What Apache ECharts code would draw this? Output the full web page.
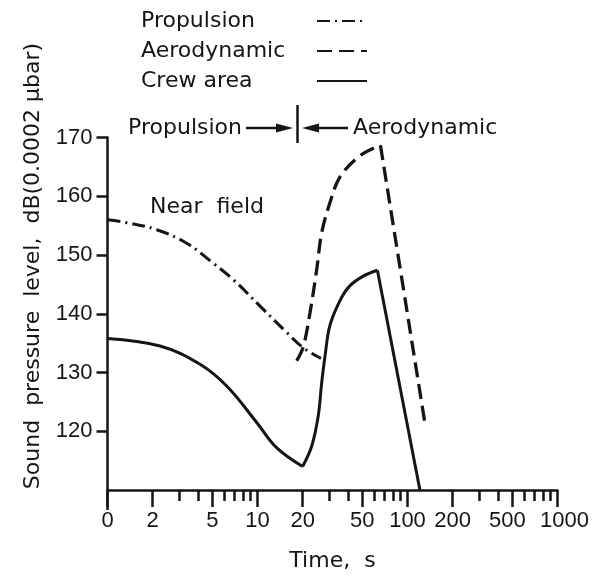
<!DOCTYPE html>
<html>
<head>
<meta charset="utf-8">
<script src="https://cdn.jsdelivr.net/npm/echarts@6/dist/echarts.min.js"></script>
<style>
html,body{margin:0;padding:0;background:#fff;}
#chart{width:607px;height:577px;}
</style>
</head>
<body>
<div id="chart"></div>
<script>
// ---- data ----
const labelTicks = [1, 2, 5, 10, 20, 50, 100, 200, 500, 1000];
const labelText = ['0', '2', '5', '10', '20', '50', '100', '200', '500', '1000'];
const minorTicks = [3, 4, 6, 7, 8, 9, 30, 40, 60, 70, 80, 90, 300, 400, 600, 700, 800, 900];
const yTicks = [120, 130, 140, 150, 160, 170];

const propulsionTime = [1, 1.34, 2.13, 3.37, 5.07, 6.9, 10.4, 15.7, 20.2, 26.5];
const propulsionSPL  = [156.0, 155.5, 154.3, 152.0, 148.6, 145.8, 141.3, 136.8, 134.2, 132.4];

const aeroRiseTime = [18.25, 20.2, 22.4, 24.8, 26.8, 30.4, 35.5, 48.2, 66];
const aeroRiseSPL  = [132.0, 134.4, 140.2, 147.5, 153.8, 158.9, 163.3, 166.9, 168.7];
const aeroFallTime = [66, 131];
const aeroFallSPL  = [168.7, 121.2];

const crewDropTime = [1, 2.24, 4.14, 6.23, 9.88, 13.4, 20];
const crewDropSPL  = [135.8, 134.5, 131.4, 127.7, 121.5, 117.2, 114.0];
const crewRiseTime = [20, 23, 25.4, 26.8, 28.2, 30.3, 35.4, 41.1, 50.7, 63];
const crewRiseSPL  = [114.0, 117.5, 122.6, 128.3, 132.8, 137.9, 142.2, 144.7, 146.4, 147.4];
const crewFallTime = [63, 121];
const crewFallSPL  = [147.4, 110];

const zip = (a, b) => a.map((v, i) => [v, b[i]]);

const FONT = 'DejaVu Sans';
const NUMFONT = 'Liberation Sans';
const INK = '#151515';

const chart = echarts.init(document.getElementById('chart'));

const lsProp = { color: INK, width: 3, type: [13, 5, 2, 5] };
const lsAero = { color: INK, width: 3.3, type: [15, 7] };
const lsCrew = { color: INK, width: 3, type: 'solid' };

function tickName(v) {
  let best = 0, bd = Infinity;
  labelTicks.forEach((t, i) => { const d = Math.abs(Math.log(t) - Math.log(v)); if (d < bd) { bd = d; best = i; } });
  const s = labelText[best];
  if (best === labelTicks.length - 2) return '{l|' + s + '}';
  if (best === labelTicks.length - 1) return '{r|' + s + '}';
  return s;
}

const numStyle = { fontFamily: NUMFONT, fontSize: 22, color: INK };

chart.setOption({
  animation: false,
  backgroundColor: '#fff',
  textStyle: { fontFamily: FONT, color: INK },
  grid: { left: 107.5, right: 49.5, top: 137.5, bottom: 85, containLabel: false },
  legend: {
    orient: 'vertical',
    left: 136,
    top: 4,
    align: 'right',
    itemWidth: 50,
    itemHeight: 14,
    itemGap: 6,
    data: ['Propulsion', 'Aerodynamic', 'Crew area'],
    itemStyle: { opacity: 0 },
    formatter: function (name) { return '{a|' + name + '}'; },
    textStyle: {
      fontFamily: FONT, fontSize: 22, color: INK, lineHeight: 24,
      rich: { a: { fontFamily: FONT, fontSize: 22, color: INK, width: 171, align: 'left', lineHeight: 24 } }
    },
    selectedMode: false
  },
  xAxis: [{
    type: 'log',
    logBase: 10,
    min: 1,
    max: 1000,
    name: 'Time,  s',
    nameLocation: 'middle',
    nameGap: 60,
    nameTextStyle: { fontFamily: FONT, fontSize: 22, color: INK },
    axisLine: { show: true, onZero: false, lineStyle: { color: INK, width: 2.5 } },
    axisTick: { show: true, customValues: labelTicks, length: 17, lineStyle: { color: INK, width: 2.5 } },
    axisLabel: {
      show: true, customValues: labelTicks, margin: 20,
      showMinLabel: true, showMaxLabel: true, hideOverlap: false,
      fontFamily: NUMFONT, fontSize: 22, color: INK,
      formatter: tickName,
      rich: {
        l: Object.assign({ padding: [0, 10, 0, 0] }, numStyle),
        r: Object.assign({ padding: [0, 0, 0, 14] }, numStyle)
      }
    },
    splitLine: { show: false },
    minorTick: { show: false }
  }, {
    type: 'log',
    logBase: 10,
    min: 1,
    max: 1000,
    position: 'bottom',
    axisLine: { show: false },
    axisTick: { show: true, customValues: minorTicks, length: 11, lineStyle: { color: INK, width: 2.5 } },
    axisLabel: { show: false },
    splitLine: { show: false }
  }],
  yAxis: {
    type: 'value',
    min: 110,
    max: 170,
    axisLine: { show: true, onZero: false, lineStyle: { color: INK, width: 2.5 } },
    axisTick: { show: true, customValues: yTicks, length: 11, lineStyle: { color: INK, width: 2.5 } },
    axisLabel: { show: true, customValues: yTicks, margin: 15, showMaxLabel: true, fontFamily: NUMFONT, fontSize: 22, color: INK },
    splitLine: { show: false }
  },
  graphic: [
    { type: 'text', x: 33, y: 266, rotation: Math.PI / 2,
      style: { text: 'Sound  pressure  level,  dB(0.0002 \u03bcbar)', font: '22px "DejaVu Sans"', fill: INK, align: 'center', verticalAlign: 'middle' } },
    { type: 'line', shape: { x1: 107.5, y1: 492, x2: 107.5, y2: 510 }, style: { stroke: INK, lineWidth: 2.5 } },
    { type: 'text', x: 242, y: 128, style: { text: 'Propulsion', font: '22px "DejaVu Sans"', fill: INK, align: 'right', verticalAlign: 'middle' } },
    { type: 'line', shape: { x1: 246, y1: 128, x2: 280, y2: 128 }, style: { stroke: INK, lineWidth: 2.5 } },
    { type: 'polygon', shape: { points: [[276, 123.5], [293, 128], [276, 132.5]] }, style: { fill: INK } },
    { type: 'line', shape: { x1: 297.5, y1: 105, x2: 297.5, y2: 143 }, style: { stroke: INK, lineWidth: 2.5 } },
    { type: 'polygon', shape: { points: [[319, 123.5], [302, 128], [319, 132.5]] }, style: { fill: INK } },
    { type: 'line', shape: { x1: 315, y1: 128, x2: 348, y2: 128 }, style: { stroke: INK, lineWidth: 2.5 } },
    { type: 'text', x: 353, y: 128, style: { text: 'Aerodynamic', font: '22px "DejaVu Sans"', fill: INK, align: 'left', verticalAlign: 'middle' } },
    { type: 'text', x: 150, y: 207, style: { text: 'Near  field', font: '22px "DejaVu Sans"', fill: INK, align: 'left', verticalAlign: 'middle' } }
  ],
  series: [
    { name: 'Propulsion', type: 'line', xAxisIndex: 0, symbol: 'none', smooth: 0.4,
      data: zip(propulsionTime, propulsionSPL), lineStyle: lsProp, itemStyle: { color: INK } },
    { name: 'Aerodynamic', type: 'line', xAxisIndex: 0, symbol: 'none', smooth: 0.35,
      data: zip(aeroRiseTime, aeroRiseSPL), lineStyle: lsAero, itemStyle: { color: INK } },
    { name: 'Aerodynamic', type: 'line', xAxisIndex: 0, symbol: 'none', smooth: false,
      data: zip(aeroFallTime, aeroFallSPL), lineStyle: lsAero, itemStyle: { color: INK } },
    { name: 'Crew area', type: 'line', xAxisIndex: 0, symbol: 'none', smooth: 0.4,
      data: zip(crewDropTime, crewDropSPL), lineStyle: lsCrew, itemStyle: { color: INK } },
    { name: 'Crew area', type: 'line', xAxisIndex: 0, symbol: 'none', smooth: 0.35,
      data: zip(crewRiseTime, crewRiseSPL), lineStyle: lsCrew, itemStyle: { color: INK } },
    { name: 'Crew area', type: 'line', xAxisIndex: 0, symbol: 'none', smooth: false,
      data: zip(crewFallTime, crewFallSPL), lineStyle: lsCrew, itemStyle: { color: INK } }
  ]
});
</script>
</body>
</html>
